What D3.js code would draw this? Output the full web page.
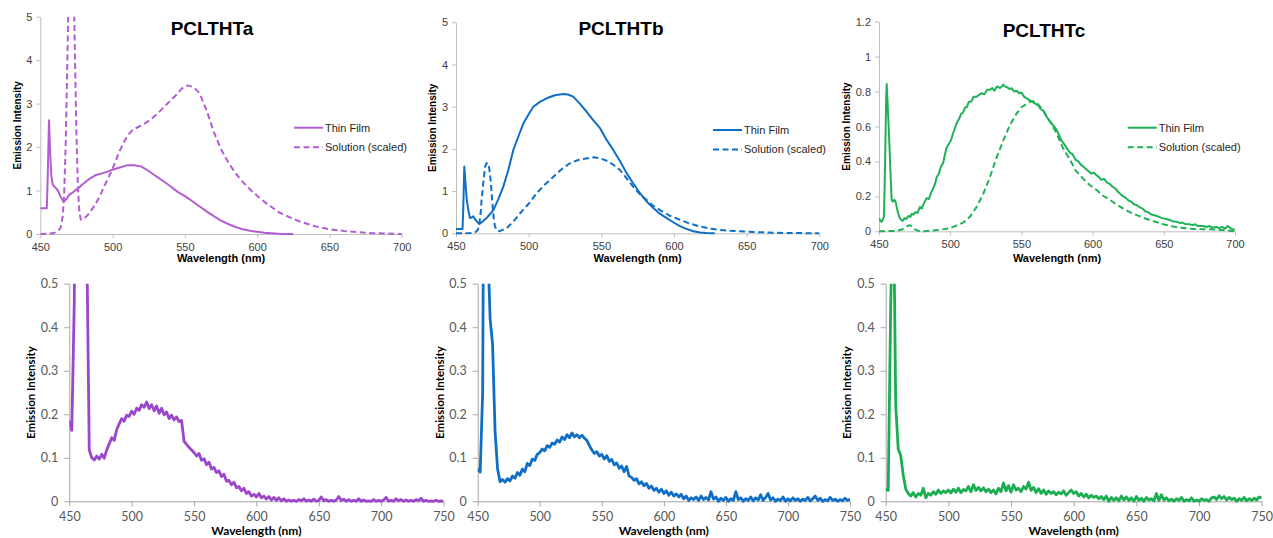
<!DOCTYPE html>
<html>
<head>
<meta charset="utf-8">
<script src="https://cdn.jsdelivr.net/npm/d3@7"></script>
<style>
  body { margin: 0; background: #fff; }
  svg { display: block; }
</style>
</head>
<body>
<svg id="chart" width="1273" height="538"></svg>
<script>
// Tick values
const TOP_WL_TICKS = [450, 500, 550, 600, 650, 700];
const BOTTOM_WL_TICKS = [450, 500, 550, 600, 650, 700, 750];
const TOP_AB_Y_TICKS = [0, 1, 2, 3, 4, 5];
const TOP_C_Y_TICKS = [0, 0.2, 0.4, 0.6, 0.8, 1, 1.2];
const BOTTOM_Y_TICKS = [0, 0.1, 0.2, 0.3, 0.4, 0.5];

const SERIES_NAMES = ['Thin Film', 'Solution (scaled)'];
const TITLES = ['PCLTHTa', 'PCLTHTb', 'PCLTHTc'];

// Top row: [wavelength nm, intensity]
const topA_film = [[450,0.59],[454.5,0.59],[455.2,1.4],[456,2.62],[456.8,1.9],[457.6,1.35],[458.5,1.15],[459.5,1.1],[461,1.05],[462.5,0.98],[464,0.86],[466,0.74],[468,0.8],[470,0.9],[473,0.97],[476,1.05],[480,1.16],[484,1.27],[488,1.35],[492,1.39],[496,1.43],[500,1.48],[505,1.53],[510,1.58],[515,1.58],[520,1.55],[525,1.45],[530,1.33],[535,1.22],[540,1.1],[545,0.97],[550,0.87],[555,0.76],[560,0.64],[565,0.52],[570,0.41],[575,0.31],[580,0.23],[585,0.16],[590,0.11],[595,0.075],[600,0.05],[605,0.03],[610,0.018],[615,0.008],[620,0.002],[625,0]];
const topA_soln = [[450,0],[456,0.01],[460,0.03],[462,0.06],[464,0.14],[465.5,0.4],[466.5,0.9],[467.5,2.0],[468.5,3.6],[469.5,5.4],[470.5,7],[472,7],[473.3,5.4],[474,4],[475,2.3],[476,1.1],[477,0.5],[478,0.33],[480,0.34],[484,0.48],[488,0.68],[491,0.86],[495,1.15],[500,1.5],[505,1.92],[510,2.25],[514,2.4],[520,2.5],[526,2.62],[532,2.8],[537,2.97],[544,3.2],[548,3.35],[552,3.42],[556,3.38],[560,3.25],[565,2.85],[570,2.35],[575,1.95],[580,1.65],[585,1.4],[590,1.2],[595,1.03],[600,0.88],[605,0.74],[610,0.62],[615,0.5],[620,0.42],[625,0.35],[630,0.28],[640,0.18],[650,0.11],[660,0.07],[670,0.04],[680,0.02],[690,0.01],[700,0]];

const topB_film = [[450,0.1],[454.5,0.1],[455,0.6],[455.7,1.58],[456.5,1.2],[457.4,0.79],[458.5,0.55],[459.6,0.36],[461,0.38],[461.9,0.4],[463,0.34],[464.2,0.29],[466,0.22],[468,0.27],[471,0.36],[473,0.44],[475.7,0.55],[479,0.8],[482.5,1.1],[486,1.5],[489.4,1.97],[493,2.3],[496.3,2.6],[500,2.82],[503.2,3.0],[508,3.12],[512.4,3.2],[518,3.27],[523.8,3.3],[527,3.29],[530.7,3.24],[535,3.08],[539.9,2.88],[544,2.7],[549.1,2.49],[553,2.25],[558.3,1.97],[563,1.7],[567.5,1.42],[572,1.18],[576.6,0.95],[581,0.76],[585.8,0.6],[590,0.47],[595,0.36],[600,0.25],[604.1,0.17],[608,0.11],[613.3,0.05],[618,0.02],[622.5,0.005],[628,0]];
const topB_soln = [[450,0],[460,0.005],[463,0.02],[465,0.08],[466,0.2],[467,0.5],[467.6,0.79],[468.8,1.2],[470,1.58],[471,1.66],[471.8,1.67],[472.6,1.6],[473.4,1.4],[474.3,1.05],[475.2,0.63],[476,0.35],[476.8,0.16],[478.4,0.06],[480,0.05],[484.9,0.12],[490,0.3],[494,0.47],[500,0.7],[505.5,0.95],[511,1.15],[517,1.34],[522,1.5],[528.4,1.66],[535,1.75],[544.5,1.8],[549,1.78],[553.7,1.72],[558,1.63],[562.9,1.5],[567,1.32],[572,1.1],[576,0.95],[581.2,0.79],[585,0.67],[590.4,0.55],[597,0.42],[604.1,0.32],[610,0.24],[617.9,0.16],[625,0.11],[631.6,0.08],[638,0.06],[645.4,0.05],[655,0.03],[663.8,0.02],[675,0.01],[688,0.005],[700,0]];

const topC_film = [[450,0.074],[451,0.06],[451.9,0.055],[452.8,0.07],[453.5,0.085],[454.3,0.4],[455,0.75],[455.4,0.843],[456,0.74],[457,0.56],[458,0.35],[458.9,0.18],[459.8,0.17],[460.8,0.18],[461.6,0.17],[462.4,0.14],[463.5,0.1],[464.7,0.074],[465.6,0.065],[466.6,0.06],[468,0.075],[469.2,0.07],[470.6,0.088],[472,0.082],[473,0.1],[474.1,0.095],[475.5,0.11],[477,0.105],[478.8,0.14],[480,0.13],[481.5,0.16],[483.5,0.19],[485,0.185],[486.5,0.22],[488,0.245],[489.3,0.27],[490.5,0.31],[492,0.33],[493.5,0.37],[495,0.39],[496.3,0.44],[497.5,0.48],[499,0.5],[500.5,0.52],[502,0.56],[503.3,0.59],[504.6,0.62],[506,0.64],[507.5,0.67],[509,0.68],[510.5,0.71],[511.6,0.71],[513,0.74],[515,0.745],[516.5,0.77],[518.6,0.77],[520,0.78],[522,0.79],[524,0.785],[526,0.81],[527.9,0.81],[529.5,0.82],[531,0.805],[533,0.83],[535,0.82],[537.3,0.84],[538.5,0.83],[540,0.825],[541.5,0.815],[543,0.82],[545,0.8],[546.7,0.805],[548.5,0.79],[550,0.795],[552,0.77],[554,0.76],[556,0.75],[558,0.74],[560,0.73],[562,0.72],[563.5,0.7],[565.4,0.69],[567,0.665],[569,0.64],[571,0.62],[573,0.6],[574.8,0.58],[576.5,0.55],[578,0.52],[580,0.5],[582,0.475],[584.1,0.45],[586,0.44],[588,0.41],[590,0.4],[591.8,0.38],[593.5,0.37],[595,0.36],[597,0.345],[599,0.33],[601,0.335],[602.9,0.32],[604.5,0.31],[606,0.295],[608,0.3],[610,0.28],[612.2,0.27],[614,0.255],[616,0.245],[618,0.225],[620,0.21],[621.6,0.2],[623.5,0.19],[625.5,0.175],[627,0.17],[629,0.155],[631,0.15],[633,0.138],[635,0.13],[637,0.115],[639,0.11],[640.3,0.1],[642,0.095],[644,0.09],[646,0.085],[648,0.078],[649.7,0.074],[652,0.07],[654,0.065],[656,0.058],[659.1,0.055],[661,0.048],[663,0.05],[665,0.042],[668.4,0.04],[670,0.035],[672,0.04],[674,0.03],[677.8,0.03],[680,0.025],[682,0.03],[684,0.022],[687.2,0.025],[689,0.018],[691,0.025],[693,0.015],[695,0.03],[696.5,0.02],[698,0.012],[700,0.01]];
const topC_soln = [[450,0],[462,0.002],[466,0.01],[469,0.025],[471.3,0.035],[473,0.028],[475,0.012],[477.6,0.002],[482,0],[486,0.003],[492,0.008],[497.5,0.015],[503,0.028],[509.2,0.05],[514,0.085],[518.6,0.14],[523,0.21],[527.9,0.31],[532,0.41],[537.3,0.52],[542,0.61],[546.7,0.675],[550,0.71],[553.7,0.73],[556,0.742],[558.4,0.745],[561,0.735],[565.4,0.69],[570,0.63],[574.8,0.56],[579,0.48],[584.1,0.41],[588,0.35],[593.5,0.3],[598,0.265],[602.9,0.236],[607,0.205],[612.2,0.18],[617,0.152],[621.6,0.13],[626,0.11],[631,0.093],[636,0.076],[640.3,0.064],[645,0.052],[649.7,0.04],[655,0.03],[660,0.022],[668.4,0.015],[677,0.012],[687.2,0.01],[694,0.005],[700,0]];

// Bottom row: thin film spectra sampled every 2 nm from 450 to 750 nm
const BOTTOM_WL = d3.range(450, 751, 2);
const botA_film = [
  0.185,0.163,0.46,2.5,3.5,3.0,1.6,0.6,0.118,0.100,
  0.095,0.104,0.097,0.108,0.099,0.118,0.132,0.146,0.140,0.165,
  0.178,0.190,0.184,0.198,0.195,0.207,0.200,0.214,0.209,0.222,
  0.216,0.228,0.213,0.222,0.208,0.219,0.202,0.214,0.199,0.205,
  0.190,0.198,0.187,0.194,0.183,0.186,0.138,0.131,0.124,0.118,
  0.112,0.104,0.110,0.094,0.098,0.084,0.090,0.074,0.078,0.066,
  0.070,0.057,0.062,0.046,0.048,0.038,0.044,0.031,0.034,0.024,
  0.030,0.018,0.022,0.012,0.016,0.010,0.018,0.008,0.012,0.005,
  0.011,0.003,0.009,0.002,0.008,0.001,0.006,0.000,0.003,0.000,
  0.002,0.000,0.004,0.001,0.006,0.000,0.003,0.000,0.005,0.000,
  0.002,0.010,0.001,0.004,0.000,0.002,0.000,0.003,0.011,0.002,
  0.005,0.000,0.004,0.000,0.002,0.000,0.006,0.000,0.003,0.000,
  0.001,0.000,0.004,0.000,0.002,0.000,0.003,0.009,0.000,0.002,
  0.000,0.006,0.001,0.004,0.000,0.003,0.000,0.002,0.000,0.004,
  0.001,0.007,0.000,0.002,0.000,0.001,0.000,0.002,0.000,0.001,
  0.000
];
const botB_film = [
  0.075,0.067,0.25,1.5,0.6,0.42,0.36,0.16,0.075,0.045,
  0.050,0.044,0.052,0.047,0.058,0.053,0.066,0.060,0.074,0.068,
  0.087,0.082,0.097,0.094,0.108,0.112,0.120,0.116,0.128,0.124,
  0.134,0.131,0.141,0.136,0.148,0.142,0.153,0.146,0.157,0.148,
  0.153,0.146,0.152,0.145,0.140,0.128,0.118,0.110,0.114,0.104,
  0.108,0.097,0.105,0.092,0.096,0.084,0.088,0.076,0.081,0.068,
  0.080,0.058,0.055,0.048,0.052,0.040,0.045,0.036,0.041,0.030,
  0.035,0.025,0.030,0.021,0.028,0.018,0.024,0.014,0.021,0.012,
  0.017,0.010,0.016,0.006,0.012,0.002,0.008,0.004,0.010,0.002,
  0.012,0.004,0.009,0.003,0.022,0.005,0.010,0.000,0.007,0.002,
  0.009,0.000,0.006,0.002,0.022,0.004,0.008,0.000,0.006,0.002,
  0.010,0.001,0.008,0.003,0.015,0.002,0.009,0.018,0.003,0.008,
  0.000,0.005,0.002,0.010,0.000,0.006,0.001,0.008,0.002,0.006,
  0.000,0.005,0.002,0.009,0.001,0.006,0.012,0.002,0.007,0.000,
  0.004,0.001,0.009,0.002,0.005,0.000,0.004,0.001,0.007,0.002,
  0.005
];
const botC_film = [
  0.028,0.025,0.45,0.75,0.22,0.12,0.105,0.06,0.028,0.018,
  0.012,0.020,0.010,0.018,0.014,0.030,0.008,0.018,0.014,0.022,
  0.016,0.026,0.018,0.024,0.020,0.026,0.019,0.028,0.021,0.030,
  0.020,0.027,0.024,0.034,0.022,0.038,0.025,0.032,0.024,0.031,
  0.022,0.028,0.020,0.026,0.017,0.030,0.022,0.042,0.024,0.036,
  0.021,0.038,0.026,0.030,0.022,0.034,0.028,0.044,0.025,0.032,
  0.020,0.029,0.018,0.026,0.016,0.024,0.018,0.022,0.015,0.021,
  0.017,0.024,0.014,0.020,0.026,0.018,0.022,0.012,0.018,0.010,
  0.016,0.008,0.014,0.009,0.012,0.006,0.011,0.004,0.012,0.000,
  0.009,0.002,0.008,0.001,0.012,0.003,0.010,0.002,0.008,0.000,
  0.011,0.002,0.007,0.000,0.009,0.003,0.006,0.001,0.018,0.002,
  0.015,0.003,0.008,0.001,0.005,0.000,0.006,0.002,0.009,0.000,
  0.004,0.001,0.008,0.000,0.003,0.000,0.006,0.002,0.004,0.000,
  0.008,0.010,0.004,0.013,0.006,0.011,0.003,0.009,0.004,0.007,
  0.000,0.006,0.002,0.009,0.001,0.006,0.002,0.007,0.003,0.010,
  0.008
];

const TOP_FONT = '"Liberation Sans", Arial, sans-serif';
const BOTTOM_FONT = 'Lato, "Open Sans", sans-serif';

const svg = d3.select('#chart');

const fmt = d => String(+d.toFixed(2));
const zip = vals => BOTTOM_WL.map((w, i) => [w, vals[i]]);

const panels = [
  { id: 'ta', box: [40.3, 401.7, 16.7, 234], xTicks: TOP_WL_TICKS, yTicks: TOP_AB_Y_TICKS, top: true,
    color: '#b35dd3', title: TITLES[0], titlePos: [212, 34.5], legend: [294, 127.7], yLabelX: 17,
    series: [{ data: topA_film }, { data: topA_soln, dashed: true }] },
  { id: 'tb', box: [456, 819.3, 22.3, 233.3], xTicks: TOP_WL_TICKS, yTicks: TOP_AB_Y_TICKS, top: true,
    color: '#0f6fc6', title: TITLES[1], titlePos: [621, 35], legend: [713, 130], yLabelX: 432,
    series: [{ data: topB_film }, { data: topB_soln, dashed: true }] },
  { id: 'tc', box: [879, 1235, 21.7, 231.3], xTicks: TOP_WL_TICKS, yTicks: TOP_C_Y_TICKS, top: true,
    color: '#1db255', title: TITLES[2], titlePos: [1044, 36.5], legend: [1127.7, 127.7], yLabelX: 846.5,
    series: [{ data: topC_film }, { data: topC_soln, dashed: true }] },
  { id: 'ba', box: [69.3, 443.5, 283.7, 501.3], xTicks: BOTTOM_WL_TICKS, yTicks: BOTTOM_Y_TICKS, top: false,
    color: '#9b46cb', yLabelX: 31, series: [{ data: zip(botA_film) }] },
  { id: 'bb', box: [477.7, 850, 283.7, 501.3], xTicks: BOTTOM_WL_TICKS, yTicks: BOTTOM_Y_TICKS, top: false,
    color: '#0f6fc6', yLabelX: 440, series: [{ data: zip(botB_film) }] },
  { id: 'bc', box: [885.7, 1261.7, 283.7, 501.3], xTicks: BOTTOM_WL_TICKS, yTicks: BOTTOM_Y_TICKS, top: false,
    color: '#1aae50', yLabelX: 847, series: [{ data: zip(botC_film) }] },
];

const defs = svg.append('defs');

panels.forEach(p => {
  const [left, right, top, bottom] = p.box;
  const font = p.top ? TOP_FONT : BOTTOM_FONT;
  const tickFont = p.top ? 11 : 12.5;
  const axisColor = p.top ? '#bfbfbf' : '#a6a6a6';
  const tickSize = p.top ? 4 : 5;

  const x = d3.scaleLinear()
    .domain([p.xTicks[0], p.xTicks[p.xTicks.length - 1]])
    .range([left, right]);
  const y = d3.scaleLinear()
    .domain([0, p.yTicks[p.yTicks.length - 1]])
    .range([bottom, top]);

  const g = svg.append('g').attr('class', `panel ${p.id}`);

  // X axis
  const xg = g.append('g')
    .attr('transform', `translate(0, ${bottom})`)
    .call(d3.axisBottom(x)
      .tickValues(p.xTicks)
      .tickFormat(fmt)
      .tickSizeInner(tickSize)
      .tickSizeOuter(0)
      .tickPadding(p.top ? 5 : 5.5));

  // Y axis
  const yg = g.append('g')
    .attr('transform', `translate(${left}, 0)`)
    .call(d3.axisLeft(y)
      .tickValues(p.yTicks)
      .tickFormat(fmt)
      .tickSizeInner(tickSize)
      .tickSizeOuter(0)
      .tickPadding(p.top ? 4 : 6));

  [xg, yg].forEach(a => {
    a.select('.domain').attr('stroke', axisColor);
    a.selectAll('.tick line').attr('stroke', axisColor);
    a.selectAll('.tick text')
      .attr('fill', p.top ? '#404040' : '#595959')
      .style('font-family', font)
      .style('font-size', `${tickFont}px`);
  });

  // Axis titles
  const labelSize = p.top ? 10 : 11.5;
  g.append('text')
    .attr('x', (left + right) / 2)
    .attr('y', p.top ? 262 : 535)
    .attr('text-anchor', 'middle')
    .style('font-family', font)
    .style('font-size', `${p.top ? 11 : 12}px`)
    .style('font-weight', 'bold')
    .text('Wavelength (nm)');
  g.append('text')
    .attr('transform', `translate(${p.yLabelX + labelSize * 0.35}, ${(top + bottom) / 2}) rotate(-90)`)
    .attr('text-anchor', 'middle')
    .style('font-family', font)
    .style('font-size', `${labelSize}px`)
    .style('font-weight', 'bold')
    .text('Emission Intensity');

  // Lines, clipped to the plot area
  defs.append('clipPath')
    .attr('id', `clip-${p.id}`)
    .append('rect')
      .attr('x', left)
      .attr('y', top)
      .attr('width', right - left)
      .attr('height', bottom - top + 2);

  const line = d3.line()
    .x(d => x(d[0]))
    .y(d => y(d[1]));

  g.append('g')
    .attr('clip-path', `url(#clip-${p.id})`)
    .selectAll('path')
    .data(p.series)
    .enter().append('path')
      .attr('d', d => line(d.data))
      .attr('fill', 'none')
      .attr('stroke', p.color)
      .attr('stroke-width', p.top ? 2 : 2.8)
      .attr('stroke-linejoin', 'round')
      .attr('stroke-dasharray', d => d.dashed ? '6,3.5' : null);

  if (!p.top) return;

  // Title
  g.append('text')
    .attr('x', p.titlePos[0])
    .attr('y', p.titlePos[1])
    .attr('text-anchor', 'middle')
    .style('font-family', font)
    .style('font-size', '19px')
    .style('font-weight', 'bold')
    .text(p.title);

  // Legend
  const legend = g.append('g')
    .attr('transform', `translate(${p.legend[0]}, ${p.legend[1]})`);
  SERIES_NAMES.forEach((name, i) => {
    legend.append('line')
      .attr('x1', 0)
      .attr('x2', 29)
      .attr('y1', i * 19.5)
      .attr('y2', i * 19.5)
      .attr('stroke', p.color)
      .attr('stroke-width', 2)
      .attr('stroke-dasharray', i === 1 ? '6,3.5' : null);
    legend.append('text')
      .attr('x', 31)
      .attr('y', i * 19.5)
      .attr('dy', '0.35em')
      .attr('fill', '#262626')
      .style('font-family', font)
      .style('font-size', '11px')
      .text(name);
  });
});
</script>
</body>
</html>
